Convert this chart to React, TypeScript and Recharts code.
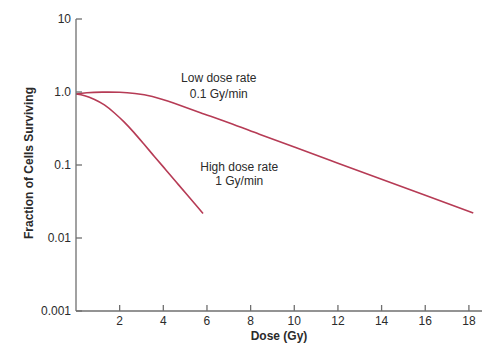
import { LineChart, Line, XAxis, YAxis, ReferenceDot } from "recharts"

const lowDose = [0, 0.5, 1.2, 2, 2.7, 3.5, 4.5, 5.7, 7, 8.4, 10, 12, 14, 16, 18.2]
const lowSurv = [0.94, 0.975, 0.995, 0.99, 0.955, 0.87, 0.7, 0.52, 0.38, 0.264, 0.176, 0.106, 0.064, 0.0385, 0.022]

const highDose = [0, 0.4, 0.85, 1.3, 1.75, 2.2, 2.65, 3.1, 3.6, 4.1, 4.6, 5.1, 5.5, 5.82]
const highSurv = [0.94, 0.89, 0.79, 0.665, 0.52, 0.39, 0.28, 0.195, 0.13, 0.087, 0.058, 0.0388, 0.0281, 0.0217]

const xTicks = [2, 4, 6, 8, 10, 12, 14, 16, 18]
const yTicks = [0.001, 0.01, 0.1, 1, 10]
const yTickLabels = ["0.001", "0.01", "0.1", "1.0", "10"]

const lowData = lowDose.map((d, i) => ({ dose: d, surv: lowSurv[i] }))
const highData = highDose.map((d, i) => ({ dose: d, surv: highSurv[i] }))

const FONT = "'Liberation Sans', Arial, Helvetica, sans-serif"
const AXIS = "#6f6f6f"
const TEXT = "#2b2b2b"
const CURVE = "#b63b55"

function YTick({ x, y, payload }: any) {
  const i = yTicks.indexOf(payload.value)
  return (
    <g>
      <line x1={x} x2={x + 6} y1={y} y2={y} stroke={AXIS} strokeWidth={1.3} />
      <text x={x - 5} y={y} dy="0.35em" textAnchor="end" fontSize={12} fill={TEXT} fontFamily={FONT}>
        {i >= 0 ? yTickLabels[i] : payload.value}
      </text>
    </g>
  )
}

function XTick({ x, y, payload }: any) {
  return (
    <g>
      <line x1={x} x2={x} y1={y} y2={y - 6} stroke={AXIS} strokeWidth={1.3} />
      <text x={x} y={y + 13.5} textAnchor="middle" fontSize={12} fill={TEXT} fontFamily={FONT}>
        {payload.value}
      </text>
    </g>
  )
}

function note(lines: string[], offsets: number[]) {
  return (p: any) => (
    <g>
      {lines.map((t, i) => (
        <text
          key={t}
          x={p.cx}
          y={p.cy + offsets[i]}
          textAnchor="middle"
          fontSize={12}
          fill={TEXT}
          fontFamily={FONT}
        >
          {t}
        </text>
      ))}
    </g>
  )
}

export default function App() {
  return (
    <div style={{ width: 500, height: 350, background: "#fff" }}>
      <style>{"body{margin:0}"}</style>
      <LineChart width={500} height={350} margin={{ top: 19, right: 18, bottom: 0, left: 0 }}>
        <XAxis
          type="number"
          dataKey="dose"
          domain={[0, 18.6]}
          ticks={xTicks}
          allowDataOverflow
          height={39}
          tickSize={0}
          tickMargin={0}
          tick={<XTick />}
          stroke={AXIS}
          strokeWidth={1.3}
          label={{
            content: () => (
              <text x={279} y={340} textAnchor="middle" fontSize={12} fontWeight="bold" fill={TEXT} fontFamily={FONT}>
                Dose (Gy)
              </text>
            ),
          }}
        />
        <YAxis
          type="number"
          scale="log"
          domain={[0.001, 10]}
          ticks={yTicks}
          allowDataOverflow
          width={76}
          tickSize={0}
          tickMargin={0}
          tick={<YTick />}
          stroke={AXIS}
          strokeWidth={1.3}
          label={{
            content: () => (
              <text
                x={33}
                y={163}
                transform="rotate(-90, 33, 163)"
                textAnchor="middle"
                fontSize={12}
                fontWeight="bold"
                fill={TEXT}
                fontFamily={FONT}
              >
                Fraction of Cells Surviving
              </text>
            ),
          }}
        />
        <Line
          data={lowData}
          dataKey="surv"
          type="natural"
          stroke={CURVE}
          strokeWidth={1.6}
          dot={false}
          isAnimationActive={false}
        />
        <Line
          data={highData}
          dataKey="surv"
          type="natural"
          stroke={CURVE}
          strokeWidth={1.6}
          dot={false}
          isAnimationActive={false}
        />
        <ReferenceDot x={6.54} y={1.247} r={0} shape={note(["Low dose rate", "0.1 Gy/min"], [-3.5, 13])} />
        <ReferenceDot x={7.48} y={0.0729} r={0} shape={note(["High dose rate", "1 Gy/min"], [-3.7, 10.3])} />
      </LineChart>
    </div>
  )
}
